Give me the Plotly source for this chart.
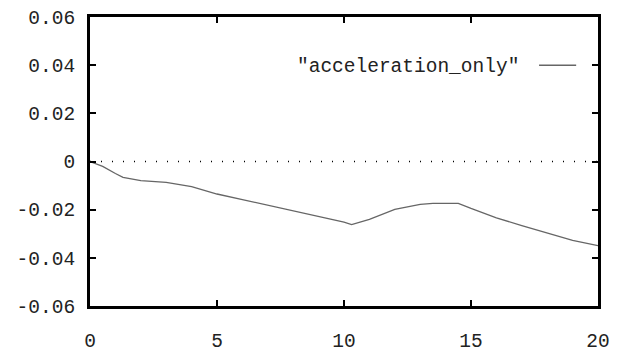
import plotly.graph_objects as go

x_vals = [0, 0.5, 1, 1.3, 2, 3, 4, 5, 6, 7, 8, 9, 10, 10.3, 11, 12, 13, 13.5, 14.5, 15, 16, 17, 18, 18.5, 19, 20]
accel = [0, -0.002, -0.005, -0.0066, -0.0079, -0.0087, -0.0104, -0.0135, -0.0158, -0.0181, -0.0205, -0.0228, -0.0252, -0.0262,
         -0.024, -0.0199, -0.0178, -0.0174, -0.0174, -0.0195, -0.0234, -0.0266, -0.0297, -0.0315, -0.0328, -0.0349]
x_ticks = [0, 5, 10, 15, 20]
y_ticks = [-0.06, -0.04, -0.02, 0, 0.02, 0.04, 0.06]
y_tick_text = ["-0.06", "-0.04", "-0.02", "0", "0.02", "0.04", "0.06"]
series_name = '"acceleration_only"'

font = dict(family="Liberation Mono", size=19.5, color="#222")

fig = go.Figure()
fig.add_trace(go.Scatter(x=[0, 20], y=[0, 0], mode="lines",
                         line=dict(color="black", width=1.5, dash="1px,10px"),
                         showlegend=False, hoverinfo="skip"))
fig.add_trace(go.Scatter(x=x_vals, y=accel, mode="lines",
                         line=dict(color="#666", width=1.3), name=series_name, showlegend=False))

axis_common = dict(showgrid=False, zeroline=False, showline=True, linecolor="black", linewidth=3,
                   mirror="ticks", ticks="inside", ticklen=6, tickwidth=2, tickcolor="black",
                   tickfont=font, automargin=False)
fig.update_xaxes(range=[0, 20], tickvals=x_ticks, ticktext=[str(v) for v in x_ticks],
                 ticklabelstandoff=15, **axis_common)
fig.update_yaxes(range=[-0.06, 0.06], tickvals=y_ticks, ticktext=y_tick_text,
                 ticklabelstandoff=8, **axis_common)

fig.add_annotation(x=0.849, y=0.828, xref="paper", yref="paper", text=series_name, showarrow=False,
                   xanchor="right", yanchor="middle", font=font)
fig.add_shape(type="line", xref="paper", yref="paper", x0=0.884, x1=0.957, y0=0.833, y1=0.833,
              line=dict(color="#666", width=1.3))

fig.update_layout(width=621, height=356, margin=dict(l=90, r=23, t=17, b=50, autoexpand=False),
                  plot_bgcolor="white", paper_bgcolor="white", showlegend=False)
fig.write_html("out.html")
